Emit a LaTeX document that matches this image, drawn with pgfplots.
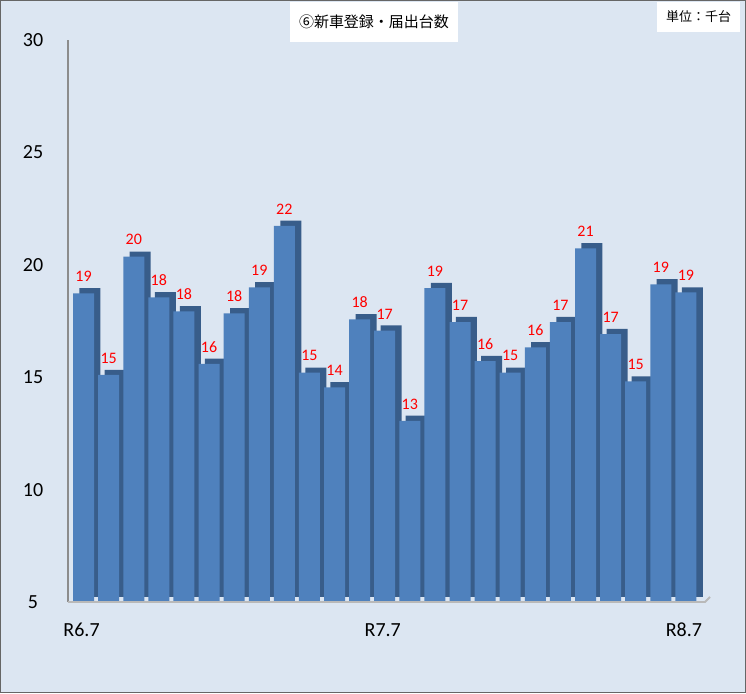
\documentclass[border=0pt]{standalone}
\usepackage{fontspec}
\setmainfont{Carlito}
\newfontfamily\cjk{Noto Sans CJK JP}
\usepackage{pgfplots}
\usepackage{pgfplotstable}
\pgfplotsset{compat=1.18}
\definecolor{bg}{HTML}{DCE6F2}
\definecolor{front}{HTML}{4F81BD}
\definecolor{side}{HTML}{385D8A}
\pgfplotstableread{
x y lab
0 18.73 19
1 15.10 15
2 20.36 20
3 18.55 18
4 17.93 18
5 15.59 16
6 17.84 18
7 19.00 19
8 21.73 22
9 15.20 15
10 14.55 14
11 17.57 18
12 17.07 17
13 13.06 13
14 18.96 19
15 17.45 17
16 15.72 16
17 15.20 15
18 16.33 16
19 17.45 17
20 20.73 21
21 16.92 17
22 14.81 15
23 19.13 19
24 18.77 19
}\data
\begin{document}
\begin{tikzpicture}
\fill[bg] (0,0) rectangle (373pt,346.5pt);
\draw[gray!80!black, line width=0.6pt] (0.3pt,0.3pt) rectangle (372.7pt,346.2pt);
\begin{axis}[name=ax, at={(34pt,45.5pt)}, anchor=south west, scale only axis,
  width=318.5pt, height=281pt,
  xmin=-0.62, xmax=24.76, ymin=5, ymax=30,
  ytick={5,10,...,30}, xtick={0,12,24}, xticklabels={R6.7,R7.7,R8.7},
  axis x line*=bottom, axis y line=left,
  x axis line style={draw=none},
  y axis line style={-, draw=gray!90, line width=1pt},
  major tick length=0pt,
  ybar, bar width=10.5pt,
  tick label style={font=\fontsize{10}{12}\selectfont},
  /pgf/number format/assume math mode=true,
  yticklabel style={anchor=center, xshift=-17.5pt},
  xticklabel style={anchor=center, yshift=-14pt, xshift=-1pt},
]
\addplot[fill=side, draw=none, bar shift=0pt, xshift=3.2pt, yshift=2.6pt] table[x=x,y=y]{\data};
\addplot[fill=front, draw=none, bar shift=0pt, nodes near coords, point meta=explicit symbolic,
  nodes near coords style={font=\fontsize{8}{9}\selectfont, text=red, yshift=2.3pt}]
  table[x=x,y=y,meta=lab]{\data};
\end{axis}
\draw[gray!55, line width=0.9pt] (ax.south west) -- (ax.south east) -- ++(2.5pt,2.5pt);
\node[fill=white, minimum width=84pt, minimum height=20pt, inner sep=0pt, font=\cjk\fontsize{7.5}{9}\selectfont] at (187pt,335.5pt) {⑥新車登録・届出台数};
\node[fill=white, minimum width=41.5pt, minimum height=15pt, inner sep=0pt, font=\cjk\fontsize{6.5}{8}\selectfont] at (349.25pt,338pt) {単位：千台};
\end{tikzpicture}
\end{document}
